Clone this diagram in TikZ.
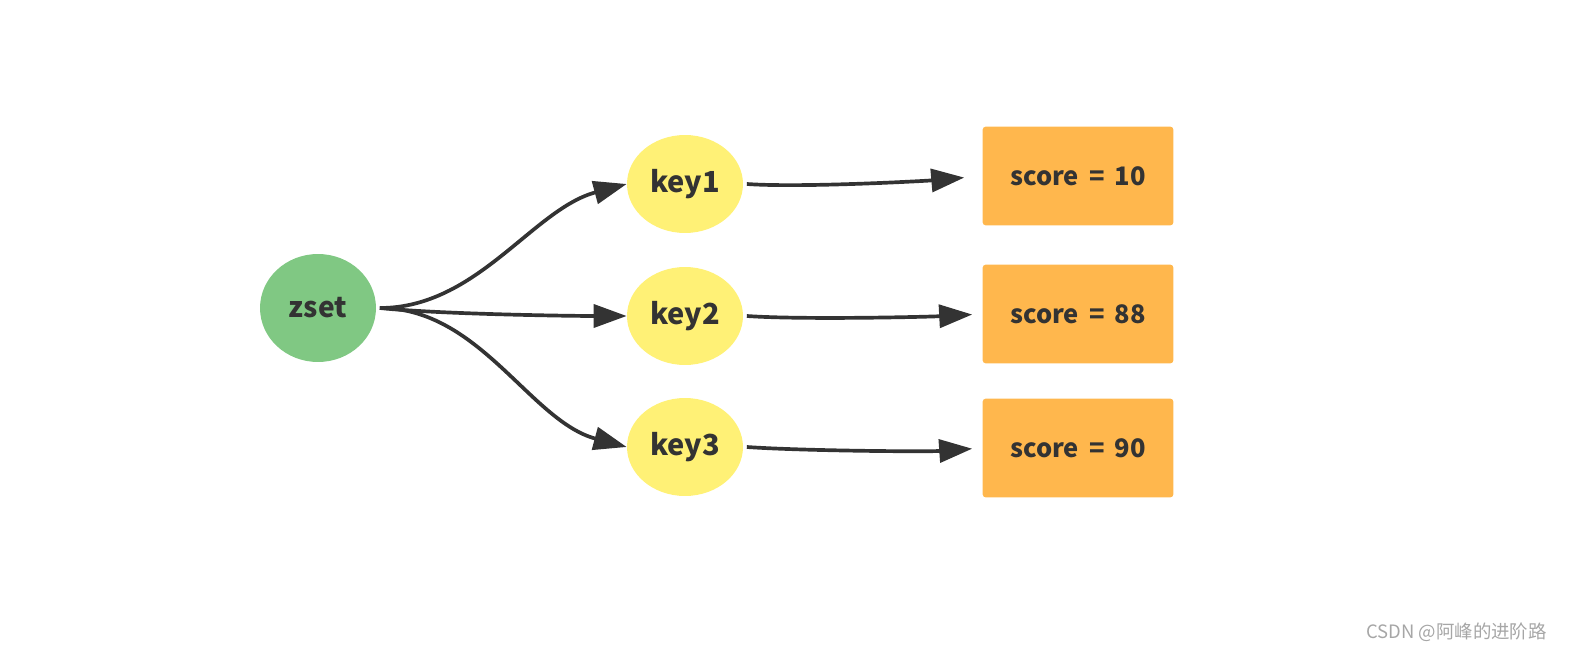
\documentclass[tikz,border=0pt]{standalone}
\usepackage{fontspec}
\setmainfont{Noto Sans CJK SC}
\usetikzlibrary{shapes.geometric, arrows.meta, positioning}

\definecolor{zgreen}{HTML}{80C883}
\definecolor{kyellow}{HTML}{FFF176}
\definecolor{sorange}{HTML}{FFB74D}
\definecolor{ink}{HTML}{333333}

\newcommand{\eqsp}{\hspace{0.4em}}

\begin{document}
\begin{tikzpicture}[
    x=0.02cm, y=-0.02cm,
    setnode/.style={ellipse, fill=zgreen, minimum width=2.32cm, minimum height=2.16cm, inner sep=0pt, text=ink, font=\fontsize{16}{18}\selectfont\bfseries},
    keynode/.style={ellipse, fill=kyellow, minimum width=2.32cm, minimum height=1.96cm, inner sep=0pt, text=ink, font=\fontsize{16.5}{18}\selectfont\bfseries},
    scorebox/.style={rectangle, fill=sorange, rounded corners=2pt, minimum width=3.82cm, minimum height=1.98cm, inner sep=0pt, text=ink, font=\fontsize{14.5}{16}\selectfont\bfseries},
    arrow/.style={-{Triangle[length=0.66cm, width=0.46cm]}, line width=2.1pt, draw=ink}
]
\useasboundingbox (0,0) rectangle (1570,652);

% Nodes
\node[setnode] (zset) at (318,308) {zset};

\node[keynode] (key1) at (685,184) {key1};
\node[keynode] (key2) at (685,316) {key2};
\node[keynode] (key3) at (685,447) {key3};

\node[scorebox] (score1) at (1078,176) {score\eqsp=\eqsp10};
\node[scorebox] (score2) at (1078,314) {score\eqsp=\eqsp88};
\node[scorebox] (score3) at (1078,448) {score\eqsp=\eqsp90};

% watermark
\node[text=gray!70, font=\fontsize{10.5}{12}\selectfont, anchor=east] (mark) at (1553,632) {CSDN @阿峰的进阶路};

% Arrows
\draw[arrow] ([xshift=2pt]zset.east) to[out=0, in=195, looseness=0.9] (key1.west);
\draw[arrow] ([xshift=2pt]zset.east) to[out=-6, in=180, looseness=0.6] (key2.west);
\draw[arrow] ([xshift=2pt]zset.east) to[out=0, in=165, looseness=0.9] (key3.west);

\draw[arrow, shorten >=0.36cm] ([xshift=2pt]key1.east) to[out=-4, in=185, looseness=0.6] (score1.west);
\draw[arrow, shorten >=0.2cm] ([xshift=2pt]key2.east) to[out=-4, in=183, looseness=0.6] (score2.west);
\draw[arrow, shorten >=0.2cm] ([xshift=2pt]key3.east) to[out=-4, in=184, looseness=0.6] (score3.west);

\end{tikzpicture}
\end{document}
